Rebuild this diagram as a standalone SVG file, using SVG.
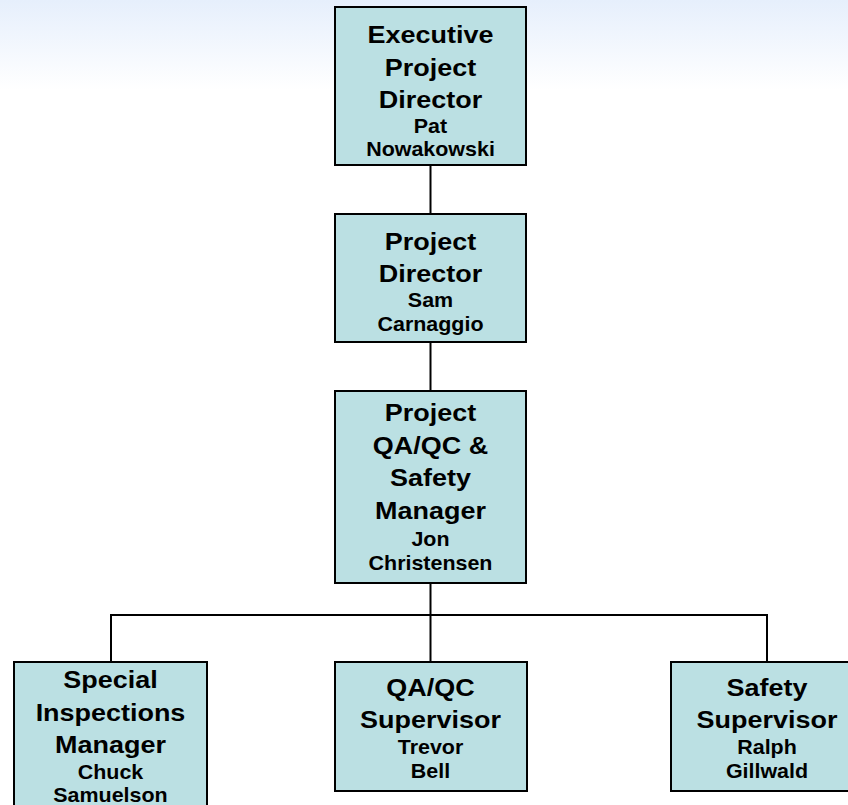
<svg xmlns="http://www.w3.org/2000/svg" width="848" height="805" viewBox="0 0 848 805">
<defs>
<linearGradient id="bg" x1="0" y1="0" x2="0" y2="1">
<stop offset="0" stop-color="#e6effc"/>
<stop offset="1" stop-color="#ffffff"/>
</linearGradient>
</defs>
<style>
.box{fill:#bbe0e3;stroke:#000;stroke-width:2}
.t{font-family:"Liberation Sans",Arial,sans-serif;font-weight:bold;text-anchor:middle;fill:#000}
.h{font-size:24.5px}
.n{font-size:19.5px}
.c{stroke:#000;stroke-width:2;fill:none}
</style>
<rect x="0" y="0" width="848" height="90" fill="url(#bg)"/>
<g id="connectors">
<line class="c" x1="430.5" y1="165" x2="430.5" y2="214"/>
<line class="c" x1="430.5" y1="342" x2="430.5" y2="391"/>
<line class="c" x1="430.5" y1="583" x2="430.5" y2="662"/>
<polyline class="c" points="111,662 111,615 767,615 767,662"/>
</g>
<g id="exec-director">
<rect class="box" x="335" y="7" width="191" height="158"/>
<g transform="translate(430.5,0) scale(1.1,1)">
<text class="t h" x="0" y="43">Executive</text>
<text class="t h" x="0" y="76">Project</text>
<text class="t h" x="0" y="108">Director</text>
<text class="t n" x="0" y="133">Pat</text>
<text class="t n" x="0" y="156">Nowakowski</text>
</g>
</g>
<g id="project-director">
<rect class="box" x="335" y="214" width="191" height="128"/>
<g transform="translate(430.5,0) scale(1.1,1)">
<text class="t h" x="0" y="250">Project</text>
<text class="t h" x="0" y="282">Director</text>
<text class="t n" x="0" y="307">Sam</text>
<text class="t n" x="0" y="331">Carnaggio</text>
</g>
</g>
<g id="qaqc-safety-manager">
<rect class="box" x="335" y="391" width="191" height="192"/>
<g transform="translate(430.5,0) scale(1.1,1)">
<text class="t h" x="0" y="421">Project</text>
<text class="t h" x="0" y="454">QA/QC &amp;</text>
<text class="t h" x="0" y="486">Safety</text>
<text class="t h" x="0" y="519">Manager</text>
<text class="t n" x="0" y="546">Jon</text>
<text class="t n" x="0" y="570">Christensen</text>
</g>
</g>
<g id="special-inspections">
<rect class="box" x="14" y="662" width="193" height="150"/>
<g transform="translate(110.5,0) scale(1.1,1)">
<text class="t h" x="0" y="688">Special</text>
<text class="t h" x="0" y="721">Inspections</text>
<text class="t h" x="0" y="753">Manager</text>
<text class="t n" x="0" y="779">Chuck</text>
<text class="t n" x="0" y="802">Samuelson</text>
</g>
</g>
<g id="qaqc-supervisor">
<rect class="box" x="335" y="662" width="192" height="129"/>
<g transform="translate(430.5,0) scale(1.1,1)">
<text class="t h" x="0" y="696">QA/QC</text>
<text class="t h" x="0" y="728">Supervisor</text>
<text class="t n" x="0" y="754">Trevor</text>
<text class="t n" x="0" y="778">Bell</text>
</g>
</g>
<g id="safety-supervisor">
<rect class="box" x="671" y="662" width="193" height="129"/>
<g transform="translate(767,0) scale(1.1,1)">
<text class="t h" x="0" y="696">Safety</text>
<text class="t h" x="0" y="728">Supervisor</text>
<text class="t n" x="0" y="754">Ralph</text>
<text class="t n" x="0" y="778">Gillwald</text>
</g>
</g>
</svg>
